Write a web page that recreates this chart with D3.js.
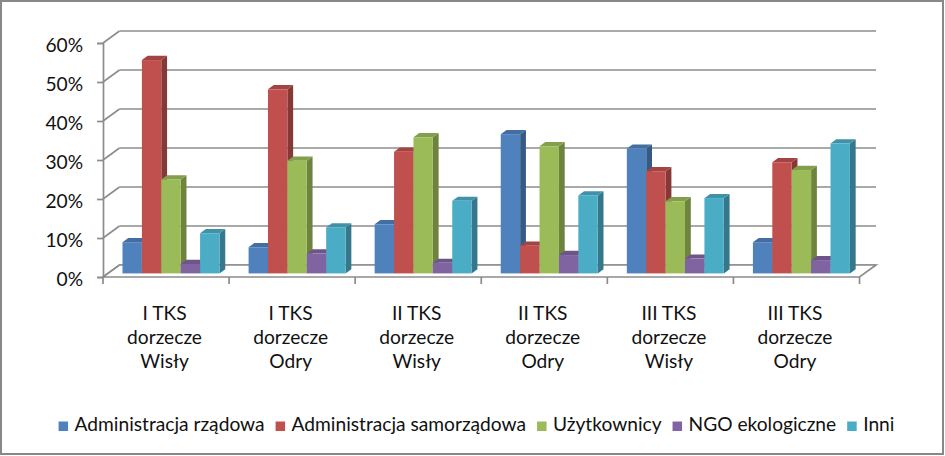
<!DOCTYPE html>
<html>
<head>
<meta charset="utf-8">
<script src="https://cdn.jsdelivr.net/npm/d3@7"></script>
<style>
  html, body { margin: 0; padding: 0; background: #fff; }
  svg { display: block; }
  text { font-family: Lato, "Open Sans", sans-serif; fill: #111; }
</style>
</head>
<body>
<svg id="chart" width="945" height="456"></svg>
<script>
// ---- data ----
const categories = ["I TKS\ndorzecze\nWisły", "I TKS\ndorzecze\nOdry", "II TKS\ndorzecze\nWisły",
                    "II TKS\ndorzecze\nOdry", "III TKS\ndorzecze\nWisły", "III TKS\ndorzecze\nOdry"];
const seriesNames = ["Administracja rządowa", "Administracja samorządowa", "Użytkownicy", "NGO ekologiczne", "Inni"];
const seriesColors = ["#4F81BD", "#C0504D", "#9BBB59", "#8064A2", "#4BACC6"];
const administracjaRzadowa     = [0.080, 0.067, 0.126, 0.357, 0.320, 0.080];
const administracjaSamorzadowa = [0.547, 0.472, 0.312, 0.071, 0.262, 0.285];
const uzytkownicy              = [0.241, 0.289, 0.349, 0.326, 0.185, 0.265];
const ngoEkologiczne           = [0.024, 0.051, 0.027, 0.047, 0.038, 0.034];
const inni                     = [0.103, 0.118, 0.186, 0.200, 0.193, 0.333];
const yTicks = [0, 0.1, 0.2, 0.3, 0.4, 0.5, 0.6];

const seriesValues = [administracjaRzadowa, administracjaSamorzadowa, uzytkownicy, ngoEkologiczne, inni];

// ---- layout ----
const W = 945, H = 456;
const svg = d3.select("#chart");
const FONT = 20;
const DX = 16.5, DY = -12;          // full depth offset of the 3D floor
const F0 = 0.30, FD = 0.35;         // bar front plane and bar depth (fractions of depth)

const x0 = d3.scaleBand().domain(categories).range([103, 859.5]).paddingInner(0).paddingOuter(0);
const x1 = d3.scaleBand().domain(seriesNames).range([0, x0.bandwidth()]).paddingInner(0).paddingOuter(0.75);
const y = d3.scaleLinear().domain([0, 0.6]).range([277, 43]);

// border
svg.append("rect").attr("x", 1).attr("y", 1).attr("width", W - 3).attr("height", H - 3)
  .attr("fill", "#fff").attr("stroke", "#888").attr("stroke-width", 2);

const gridColor = "#8c8c8c";
const g = svg.append("g");

// back-wall gridlines + left-wall diagonals
yTicks.forEach(v => {
  g.append("line").attr("x1", 103 + DX).attr("x2", 859.5 + DX)
    .attr("y1", y(v) + DY).attr("y2", y(v) + DY)
    .attr("stroke", gridColor).attr("stroke-width", 1.7);
  g.append("line").attr("x1", 103).attr("x2", 103 + DX)
    .attr("y1", y(v)).attr("y2", y(v) + DY)
    .attr("stroke", gridColor).attr("stroke-width", 1.7);
});

// floor
g.append("path")
  .attr("d", `M103,${y(0)}L859.5,${y(0)}L${859.5 + DX},${y(0) + DY}L${103 + DX},${y(0) + DY}Z`)
  .attr("fill", "#fff").attr("stroke", gridColor).attr("stroke-width", 1.7);

// value axis (front-left edge) with ticks
const yAxis = d3.axisLeft(y).tickValues(yTicks).tickSize(6).tickPadding(14)
  .tickFormat(d3.format(".0%"));
const yAxisG = svg.append("g").attr("transform", "translate(103,0)").call(yAxis);
yAxisG.select(".domain").attr("stroke", gridColor).attr("stroke-width", 1.7);
yAxisG.selectAll(".tick line").attr("stroke", gridColor).attr("stroke-width", 1.7);
yAxisG.selectAll(".tick text").attr("font-size", FONT).attr("fill", "#111")
  .attr("font-family", "Lato").attr("dy", "0.4em");

// category axis ticks
const catEdges = categories.map(c => x0(c)).concat([x0(categories[categories.length - 1]) + x0.bandwidth()]);
svg.append("g").selectAll("line").data(catEdges).join("line")
  .attr("x1", d => d).attr("x2", d => d).attr("y1", y(0)).attr("y2", y(0) + 7)
  .attr("stroke", gridColor).attr("stroke-width", 1.7);

// bars
const bx = DX * F0, by = DY * F0;     // shift of bar front plane
const ddx = DX * FD, ddy = DY * FD;   // bar depth
const bars = svg.append("g");
categories.forEach((cat, ci) => {
  seriesNames.forEach((s, si) => {
    const v = seriesValues[si][ci];
    const xl = x0(cat) + x1(s) + bx;
    const xr = xl + x1.bandwidth();
    const yt = y(v) + by, yb = y(0) + by;
    const base = d3.color(seriesColors[si]);
    // side
    bars.append("path")
      .attr("d", `M${xr},${yt}L${xr + ddx},${yt + ddy}L${xr + ddx},${yb + ddy}L${xr},${yb}Z`)
      .attr("fill", base.darker(1.0));
    // top
    bars.append("path")
      .attr("d", `M${xl},${yt}L${xr},${yt}L${xr + ddx},${yt + ddy}L${xl + ddx},${yt + ddy}Z`)
      .attr("fill", base.darker(0.45));
    // front
    bars.append("rect").attr("x", xl).attr("y", yt).attr("width", xr - xl).attr("height", yb - yt)
      .attr("fill", base);
  });
});

// text compression so that the narrow (Calibri-like) widths are matched
const probe = svg.append("text").attr("font-size", FONT).text("Administracja rządowa");
const K = 190 / probe.node().getComputedTextLength();
probe.remove();
function squeeze(sel) {
  sel.each(function () {
    const w = this.getComputedTextLength();
    d3.select(this).attr("textLength", w * K).attr("lengthAdjust", "spacingAndGlyphs");
  });
}
squeeze(yAxisG.selectAll(".tick text"));

// category labels
const catLabels = svg.append("g").selectAll("text").data(categories).join("text")
  .attr("text-anchor", "middle").attr("font-size", FONT);
catLabels.each(function (c) {
  const t = d3.select(this);
  c.split("\n").forEach((line, i) => {
    t.append("tspan").attr("x", x0(c) + x0.bandwidth() / 2 - 1.5).attr("y", 320 + i * 24).text(line);
  });
});
catLabels.selectAll("tspan").each(function () {
  const w = this.getComputedTextLength();
  d3.select(this).attr("textLength", w * K).attr("lengthAdjust", "spacingAndGlyphs");
});

// legend
const legend = svg.append("g");
let lx = 0;
const items = [];
seriesNames.forEach((s, i) => {
  const it = legend.append("g");
  it.append("rect").attr("x", 0).attr("y", -9.5).attr("width", 9.5).attr("height", 9.5).attr("fill", seriesColors[i]);
  const t = it.append("text").attr("x", 16).attr("y", 0).attr("font-size", FONT).text(s);
  const w = t.node().getComputedTextLength() * K;
  t.attr("textLength", w).attr("lengthAdjust", "spacingAndGlyphs");
  it.attr("transform", `translate(${lx},0)`);
  items.push(it);
  lx += 16 + w + 11;
});
const totalW = lx - 11;
legend.attr("transform", `translate(${(57 + 896) / 2 - totalW / 2},431)`);
</script>
</body>
</html>
